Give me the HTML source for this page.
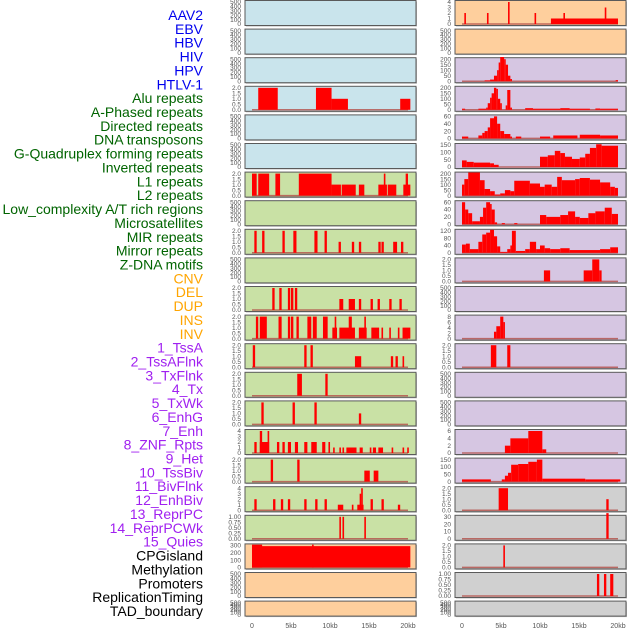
<!DOCTYPE html>
<html><head><meta charset="utf-8"><style>
body{margin:0;background:#fff;width:630px;height:630px;overflow:hidden}
svg{display:block;font-family:"Liberation Sans",sans-serif}
</style></head><body>
<svg id="c" width="630" height="630" viewBox="0 0 630 630"></svg>
<script>
const labels=["AAV2","EBV","HBV","HIV","HPV","HTLV-1","Alu repeats","A-Phased repeats","Directed repeats","DNA transposons","G-Quadruplex forming repeats","Inverted repeats","L1 repeats","L2 repeats","Low_complexity A/T rich regions","Microsatellites","MIR repeats","Mirror repeats","Z-DNA motifs","CNV","DEL","DUP","INS","INV","1_TssA","2_TssAFlnk","3_TxFlnk","4_Tx","5_TxWk","6_EnhG","7_Enh","8_ZNF_Rpts","9_Het","10_TssBiv","11_BivFlnk","12_EnhBiv","13_ReprPC","14_ReprPCWk","15_Quies","CPGisland","Methylation","Promoters","ReplicationTiming","TAD_boundary"];
const labelGroups=["virus","virus","virus","virus","virus","virus","repeat","repeat","repeat","repeat","repeat","repeat","repeat","repeat","repeat","repeat","repeat","repeat","repeat","sv","sv","sv","sv","sv","chrom","chrom","chrom","chrom","chrom","chrom","chrom","chrom","chrom","chrom","chrom","chrom","chrom","chrom","chrom","other","other","other","other","other"];
const xTicks=[0,5,10,15,20];
const xTickLabels=["0","5kb","10kb","15kb","20kb"];
const E=[0,100,200,300,400,500];
const T2=[0,0.5,1,1.5,2];
// tick values per panel (left column rows 1-22, right column rows 1-22)
const leftTicks=[E,E,E,T2,E,E,T2,E,T2,E,T2,T2,T2,T2,T2,[0,1,2,3,4],T2,[0,1,2,3,4],[0,0.25,0.5,0.75,1],[0,100,200,300],E,E];
const rightTicks=[[0,1,2,3,4],E,[0,50,100,150,200],[0,50,100,150,200],[0,20,40,60],[0,50,100,150],[0,50,100,150,200],[0,20,40,60],[0,40,80,120],T2,E,[0,2,4,6,8],T2,E,E,[0,2,4,6],[0,50,100,150],T2,[0,10,20,30],T2,[0,0.25,0.5,0.75,1],E];
// bars: [startKb,endKb,value]
const leftBars=[[],[],[],
[[0.8,3.3,2],[8.2,10.2,2],[10.2,12.3,1],[19,20.3,1]],
[],[],
[[0,0.6,2],[0.8,2.2,2],[3,3.6,2],[6,10.2,2],[10.2,11.4,1],[11.5,13.3,1],[13.7,14.4,1],[16.2,17.3,1],[16.9,17.1,2],[17.4,18.5,1],[19.4,20.3,1],[19.7,20,2]],
[],
[[0.3,0.6,2],[1.3,1.6,2],[3.9,4.2,2],[5.3,5.7,2],[8,8.4,2],[9.3,9.6,2],[11.1,11.4,1],[12.8,13.1,1],[13.7,14,1],[16.2,16.5,1],[16.6,16.9,1],[18.1,18.6,1],[19.1,19.4,1]],
[],
[[2.6,2.9,2],[3.5,3.8,2],[4.6,4.9,2],[5.0,5.3,2],[5.5,5.8,2],[11.2,11.7,1],[12.4,13.2,1],[13.7,14,1],[15.2,15.5,1],[16.1,16.4,1],[17.6,17.9,1],[18.9,19.2,1]],
[[0.5,0.8,2],[1.0,1.9,2],[3.4,3.8,2],[4.6,4.9,2],[5.0,5.3,2],[5.7,6.0,2],[7.1,7.6,2],[7.8,8.3,2],[9.1,9.7,2],[10.3,10.9,1],[10.6,10.8,2],[11.2,13.2,1],[12.4,12.8,2],[13.7,14.7,1],[14.4,14.6,2],[15.3,16.3,1],[16.6,16.8,1],[17.6,17.8,1],[18.7,18.9,1],[19.3,20.3,1]],
[[0.1,0.4,2],[6.7,7.0,2],[7.5,7.8,2],[13.2,14,1],[17.8,18.1,1],[18.4,18.7,1],[19.3,19.5,1]],
[[5.8,6.4,2],[9.4,9.7,2]],
[[1.2,1.5,2],[5.2,5.5,2],[8,8.3,2],[13.7,14,1]],
[[0.3,0.6,2],[1.0,2.2,2],[1.0,1.3,4],[2.0,2.2,4],[3.2,3.5,2],[3.9,4.2,2],[4.6,5.0,2],[5.5,5.9,2],[6.7,7.1,2],[7.6,8.3,2],[9.0,9.4,2],[9.8,10.0,2],[10.4,10.6,1],[11.2,11.4,1],[11.6,11.8,1],[12.1,13.4,1],[13.8,14.2,1],[15.1,15.3,1],[15.5,15.9,1],[16.2,16.8,1],[17.9,18.1,1],[19.3,19.5,1],[19.9,20.1,1]],
[[2.4,2.7,2],[5.8,6.1,2],[14.4,15.1,1],[15.6,16.2,1]],
[[0.3,0.6,2],[2.7,3.0,2],[3.7,4.0,2],[4.6,4.9,2],[6.7,7.0,2],[8.1,8.4,2],[9.3,9.6,2],[11.0,11.7,1],[12.8,13.0,1],[13.5,14.3,1],[13.8,14.0,3],[14.0,14.2,4],[15.2,15.5,2],[16.6,16.9,2],[18.7,19.0,1]],
[[11.2,11.4,1],[11.6,11.8,1],[14.4,14.6,1]],
[[0,20.3,290],[0,1.3,310],[7.7,7.9,310]],
[],[]];
const rightBars=[
[[0.3,0.5,2],[3.2,3.4,2],[5.9,6.1,4],[9.3,9.5,2],[11.4,20.0,1],[13.0,13.2,2],[18.3,18.5,3]],
[],
[[2.9,3.6,8],[3.6,4.1,15],[4.1,4.5,50],[4.5,4.7,100],[4.7,4.9,170],[4.9,5.4,220],[5.4,5.6,200],[5.6,5.9,150],[5.9,6.2,50],[6.2,6.4,20],[19.7,20.0,10]],
[[0,0.4,10],[2.1,3.1,10],[3.1,3.3,20],[3.3,3.6,60],[3.6,3.8,110],[3.8,4.1,150],[4.1,4.4,200],[4.4,4.6,190],[4.6,4.9,100],[4.9,5.1,60],[5.6,5.8,40],[5.8,6.2,180],[6.2,6.4,20],[8.1,9.1,15],[9.1,12.6,10],[12.6,13.8,15],[13.8,16.4,10],[17.1,17.7,12],[17.7,20.0,10]],
[[0,0.8,5],[2.1,2.6,8],[2.6,2.9,15],[2.9,3.3,20],[3.3,3.6,30],[3.6,4.1,55],[4.1,4.5,60],[4.5,4.9,40],[4.9,5.4,20],[5.4,6.2,12],[6.2,6.4,5],[6.9,7.6,5],[10.0,11.3,5],[11.7,14.8,8],[15.1,17.7,10],[17.7,20.0,8]],
[[0,0.6,45],[0.6,1.5,35],[1.5,3.6,30],[3.6,4.1,25],[4.1,4.7,15],[10.0,11.0,70],[11.0,11.9,80],[11.9,12.6,110],[12.6,13.2,95],[13.2,14.1,70],[14.1,15.1,55],[15.1,15.8,65],[15.8,16.4,90],[16.4,17.2,130],[17.2,17.9,155],[17.9,20.0,145]],
[[0,0.3,100],[0.3,0.8,150],[0.8,2.3,210],[2.3,2.9,140],[2.9,3.6,60],[3.6,4.2,40],[4.2,4.9,10],[4.9,5.5,20],[5.5,6.2,50],[6.2,6.7,40],[6.7,8.7,135],[8.7,10.0,110],[10.0,10.6,80],[10.6,11.5,100],[11.5,12.2,80],[12.2,12.8,170],[12.8,14.5,140],[14.5,15.1,150],[15.1,16.4,160],[16.4,17.7,145],[17.7,19.0,120],[19.0,19.6,80],[19.6,20.0,70]],
[[0,0.4,60],[0.4,0.8,40],[0.8,1.3,30],[1.3,2.3,8],[2.3,2.7,20],[2.7,3.1,45],[3.1,3.6,60],[3.6,3.8,55],[3.8,4.2,40],[4.2,4.5,5],[5.1,5.5,3],[6.7,7.1,3],[10.0,10.8,25],[10.8,12.6,20],[12.6,13.6,25],[13.6,14.5,35],[14.5,15.1,20],[15.1,16.2,17],[16.2,17.1,30],[17.1,18.3,35],[18.3,19.2,45],[19.2,20.0,28]],
[[0,0.5,45],[0.5,1.0,50],[1.0,2.1,20],[2.1,2.6,60],[2.6,3.1,100],[3.1,3.6,110],[3.6,4.1,125],[4.1,4.5,90],[4.5,4.9,35],[4.9,5.8,5],[5.8,6.2,20],[6.2,6.4,40],[6.4,6.9,120],[6.9,8.1,10],[8.1,8.7,20],[8.7,9.5,60],[9.5,10.0,20],[10.0,10.6,40],[10.6,11.3,25],[11.3,12.6,20],[12.6,13.8,25],[13.8,17.7,15],[17.7,19.0,20],[19.0,20.0,30]],
[[10.5,11.3,1],[15.6,16.7,1],[16.7,17.6,2],[17.6,17.9,1]],
[],
[[4.1,4.4,2.5],[4.4,4.9,4.5],[4.9,5.3,8],[5.3,5.5,6]],
[[3.7,4.4,2],[5.8,6.2,2]],
[],[],
[[5.5,6.2,2],[6.2,8.5,4],[8.5,10.3,6],[10.3,10.8,1]],
[[0,3.7,15],[5.1,5.5,15],[5.5,5.9,40],[5.9,6.3,60],[6.3,7.2,115],[7.2,8.5,120],[8.5,9.6,135],[9.6,10.3,150],[10.3,15.8,20],[15.8,20.3,15]],
[[4.7,5.9,2],[18.5,18.8,1]],
[[18.5,18.8,35]],
[[5.3,5.5,2]],
[[17.3,17.6,1],[18.2,18.5,1],[19.0,19.4,1]],
[]];
const leftBg=["#c9e4ec","#c9e4ec","#c9e4ec","#c9e4ec","#c9e4ec","#c9e4ec","#c9e1a5","#c9e1a5","#c9e1a5","#c9e1a5","#c9e1a5","#c9e1a5","#c9e1a5","#c9e1a5","#c9e1a5","#c9e1a5","#c9e1a5","#c9e1a5","#c9e1a5","#fecf9d","#fecf9d","#fecf9d"];
const rightBg=["#fecf9d","#fecf9d","#d6c6e2","#d6c6e2","#d6c6e2","#d6c6e2","#d6c6e2","#d6c6e2","#d6c6e2","#d6c6e2","#d6c6e2","#d6c6e2","#d6c6e2","#d6c6e2","#d6c6e2","#d6c6e2","#d6c6e2","#d0d0d0","#d0d0d0","#d0d0d0","#d0d0d0","#d0d0d0"];
const groupColor={virus:"#0000ee",repeat:"#006400",sv:"#ffa500",chrom:"#a020f0",other:"#000000"};

const NS="http://www.w3.org/2000/svg";
const svg=document.getElementById('c');
function mk(tag,attrs,parent){const e=document.createElementNS(NS,tag);for(const k in attrs)e.setAttribute(k,attrs[k]);(parent||svg).appendChild(e);return e;}

// category labels
labels.forEach((t,i)=>{
  const e=mk('text',{x:203,y:20+i*13.86,'text-anchor':'end','font-size':14,fill:groupColor[labelGroups[i]]});
  e.textContent=t;
  
  
});

function panel(col,i,ticks,bars,bg){
  const px=col===0?245:455, pw=171;
  const top=0.5+i*28.6, h=(i===21)?15:25;
  const x0=px+7, x1=px+163;
  const xs=kb=>x0+(kb/20)*(x1-x0);
  const y0=top+h-1.5, yt=top+1.5;
  const tmax=ticks[ticks.length-1];
  const ys=v=>y0-(v/tmax)*(y0-yt);
  const g=mk('g',{});
  
  
  mk('rect',{x:px+1,y:top+1,width:pw,height:h,fill:'#bbb'},g);
  mk('rect',{x:px,y:top,width:pw,height:h,fill:bg,stroke:'#5a5a5a','stroke-width':1},g);
  ticks.forEach(v=>{
    const t=mk('text',{x:px-4,y:ys(v)+2.2,'text-anchor':'end','font-size':6.5,fill:'#555'},g);
    t.textContent=(tmax<=2&&tmax>1)?v.toFixed(1):(tmax===1?v.toFixed(2):String(v));
    
    
  });
  if(bars.length){
    const bl=mk('line',{x1:xs(0),x2:xs(20),y1:y0,y2:y0,stroke:'#b4504a','stroke-width':1.5,opacity:0.8},g);
    
    
  }
  bars.forEach(b=>{
    const r=mk('rect',{x:xs(b[0]),y:ys(b[2]),width:Math.max(1.6,xs(b[1])-xs(b[0])),height:y0-ys(b[2]),fill:'#ff0000'},g);
    
    
  });
  if(i===21){
    xTicks.forEach((v,k)=>{
      const t=mk('text',{x:xs(v),y:628,'text-anchor':'middle','font-size':7,fill:'#555'});
      t.textContent=xTickLabels[k];
      
      
    });
  }
}
for(let i=0;i<22;i++){
  panel(0,i,leftTicks[i],leftBars[i],leftBg[i]);
  panel(1,i,rightTicks[i],rightBars[i],rightBg[i]);
}
</script>
</body></html>
